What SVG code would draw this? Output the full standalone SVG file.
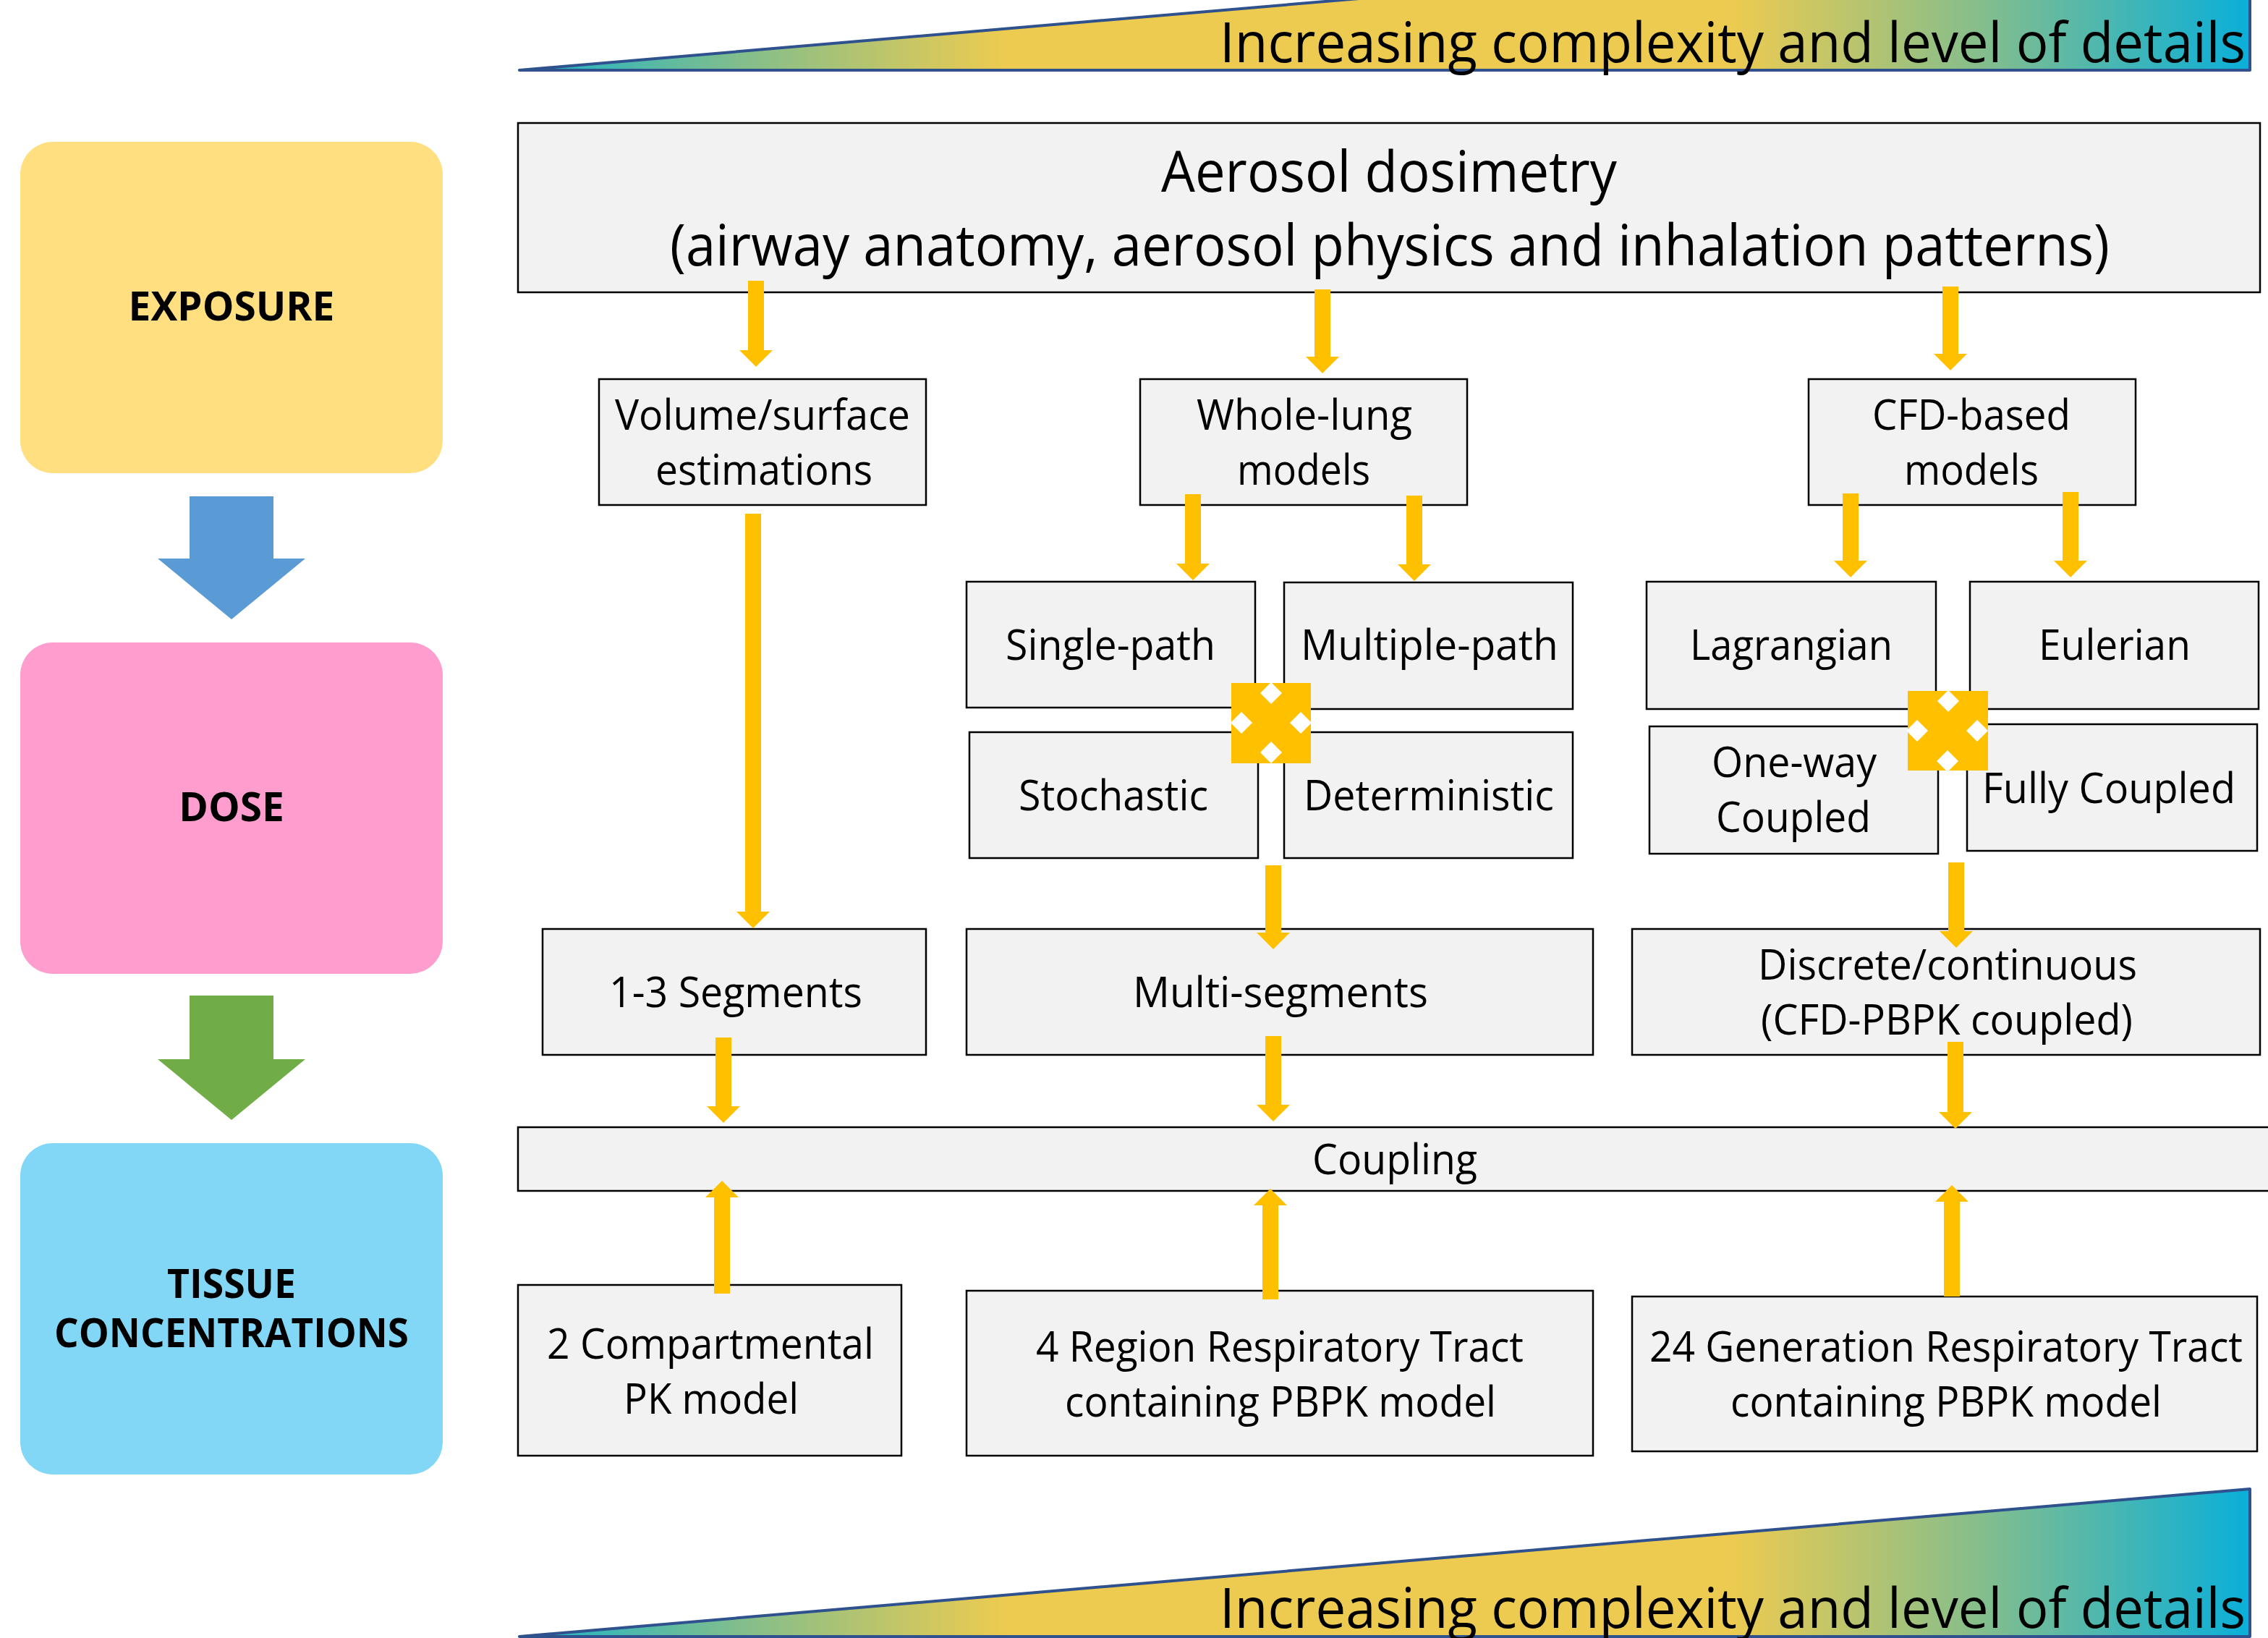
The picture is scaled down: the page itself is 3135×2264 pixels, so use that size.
<svg xmlns="http://www.w3.org/2000/svg" width="3135" height="2264" viewBox="0 0 3135 2264">
  <style>
    text { font-family: "Open Sans", "Noto Sans", "Liberation Sans", sans-serif; fill: #000; text-anchor: middle; }
    .box { fill: #F2F2F2; stroke: #000; stroke-width: 2.5; }
    .t { font-size: 59px; }
    .big { font-size: 78px; }
    .stage { font-size: 55px; font-weight: bold; }
    .ramp { fill: url(#ramp); stroke: #2F528F; stroke-width: 4; stroke-linejoin: round; }
    .ramptext { font-size: 76px; text-anchor: start; }
    .conn { stroke: #FFC000; stroke-width: 22; fill: none; marker-end: url(#head); }
    .cross { fill: #FFC000; }
    .notch { fill: #FFFFFF; }
  </style>
  <defs>
    <linearGradient id="ramp" gradientUnits="userSpaceOnUse" x1="718" y1="0" x2="3110" y2="0">
      <stop offset="0" stop-color="#17B3CA"/>
      <stop offset="0.13" stop-color="#84BE8B"/>
      <stop offset="0.28" stop-color="#EDCB50"/>
      <stop offset="0.70" stop-color="#EDCB50"/>
      <stop offset="0.84" stop-color="#88BE8A"/>
      <stop offset="1" stop-color="#0AAFD9"/>
    </linearGradient>
    <marker id="head" viewBox="0 0 23 46" refX="0" refY="23" markerWidth="23" markerHeight="46" markerUnits="userSpaceOnUse" orient="auto">
      <path d="M0,0 L23,23 L0,46 Z" fill="#FFC000"/>
    </marker>
  </defs>

  <!-- complexity ramps -->
  <g id="ramp-top">
    <polygon class="ramp" points="718,97 3110,97 3110,-107"/>
    <text class="ramptext" x="1686" y="86" textLength="1418" lengthAdjust="spacingAndGlyphs">Increasing complexity and level of details</text>
  </g>
  <g id="ramp-bottom">
    <polygon class="ramp" points="718,2262 3110,2262 3110,2058"/>
    <text class="ramptext" x="1686" y="2250" textLength="1418" lengthAdjust="spacingAndGlyphs">Increasing complexity and level of details</text>
  </g>

  <!-- stage column -->
  <g id="exposure">
    <rect x="28" y="196" width="584" height="458" rx="45" ry="45" fill="#FFDF80"/>
    <text class="stage" x="320" y="443">EXPOSURE</text>
  </g>
  <g id="stage-arrow-1">
    <polygon points="262,686 378,686 378,772 422,772 320,856 218,772 262,772" fill="#5B9BD5"/>
  </g>
  <g id="dose">
    <rect x="28" y="888" width="584" height="458" rx="45" ry="45" fill="#FF9DCE"/>
    <text class="stage" x="320" y="1135">DOSE</text>
  </g>
  <g id="stage-arrow-2">
    <polygon points="262,1376 378,1376 378,1464 422,1464 320,1548 218,1464 262,1464" fill="#70AD47"/>
  </g>
  <g id="tissue">
    <rect x="28" y="1580" width="584" height="458" rx="45" ry="45" fill="#82D7F6"/>
    <text class="stage" x="320" y="1794" textLength="178" lengthAdjust="spacingAndGlyphs">TISSUE</text>
    <text class="stage" x="320" y="1862" textLength="490" lengthAdjust="spacingAndGlyphs">CONCENTRATIONS</text>
  </g>

  <!-- model boxes -->
  <g id="aerosol">
    <rect class="box" x="716" y="170" width="2408" height="234"/>
    <text class="big" x="1920" y="265" textLength="630" lengthAdjust="spacingAndGlyphs">Aerosol dosimetry</text>
    <text class="big" x="1921" y="367" textLength="1990" lengthAdjust="spacingAndGlyphs">(airway anatomy, aerosol physics and inhalation patterns)</text>
  </g>
  <g id="volume">
    <rect class="box" x="828" y="524" width="452" height="174"/>
    <text class="t" x="1054" y="594" textLength="408" lengthAdjust="spacingAndGlyphs">Volume/surface</text>
    <text class="t" x="1056" y="670" textLength="300" lengthAdjust="spacingAndGlyphs">estimations</text>
  </g>
  <g id="wholelung">
    <rect class="box" x="1576" y="524" width="452" height="174"/>
    <text class="t" x="1803" y="594" textLength="298" lengthAdjust="spacingAndGlyphs">Whole-lung</text>
    <text class="t" x="1802" y="670" textLength="184" lengthAdjust="spacingAndGlyphs">models</text>
  </g>
  <g id="cfd">
    <rect class="box" x="2500" y="524" width="452" height="174"/>
    <text class="t" x="2725" y="594" textLength="274" lengthAdjust="spacingAndGlyphs">CFD-based</text>
    <text class="t" x="2725" y="670" textLength="186" lengthAdjust="spacingAndGlyphs">models</text>
  </g>
  <g id="singlepath">
    <rect class="box" x="1336" y="804" width="399" height="174"/>
    <text class="t" x="1535" y="912" textLength="290" lengthAdjust="spacingAndGlyphs">Single-path</text>
  </g>
  <g id="multiplepath">
    <rect class="box" x="1775" y="805" width="399" height="175"/>
    <text class="t" x="1976" y="912" textLength="356" lengthAdjust="spacingAndGlyphs">Multiple-path</text>
  </g>
  <g id="stochastic">
    <rect class="box" x="1340" y="1012" width="399" height="174"/>
    <text class="t" x="1539" y="1120" textLength="262" lengthAdjust="spacingAndGlyphs">Stochastic</text>
  </g>
  <g id="deterministic">
    <rect class="box" x="1775" y="1012" width="399" height="174"/>
    <text class="t" x="1975" y="1120" textLength="346" lengthAdjust="spacingAndGlyphs">Deterministic</text>
  </g>
  <g id="lagrangian">
    <rect class="box" x="2276" y="804" width="400" height="176"/>
    <text class="t" x="2476" y="912" textLength="280" lengthAdjust="spacingAndGlyphs">Lagrangian</text>
  </g>
  <g id="eulerian">
    <rect class="box" x="2723" y="804" width="399" height="176"/>
    <text class="t" x="2923" y="912" textLength="210" lengthAdjust="spacingAndGlyphs">Eulerian</text>
  </g>
  <g id="oneway">
    <rect class="box" x="2280" y="1004" width="399" height="176"/>
    <text class="t" x="2480" y="1074" textLength="228" lengthAdjust="spacingAndGlyphs">One-way</text>
    <text class="t" x="2479" y="1150" textLength="214" lengthAdjust="spacingAndGlyphs">Coupled</text>
  </g>
  <g id="fullycoupled">
    <rect class="box" x="2719" y="1001" width="401" height="175"/>
    <text class="t" x="2915" y="1110" textLength="350" lengthAdjust="spacingAndGlyphs">Fully Coupled</text>
  </g>
  <g id="segments13">
    <rect class="box" x="750" y="1284" width="530" height="174"/>
    <text class="t" x="1017" y="1392" textLength="350" lengthAdjust="spacingAndGlyphs">1-3 Segments</text>
  </g>
  <g id="multisegments">
    <rect class="box" x="1336" y="1284" width="866" height="174"/>
    <text class="t" x="1770" y="1392" textLength="408" lengthAdjust="spacingAndGlyphs">Multi-segments</text>
  </g>
  <g id="discrete">
    <rect class="box" x="2256" y="1284" width="868" height="174"/>
    <text class="t" x="2692" y="1354" textLength="524" lengthAdjust="spacingAndGlyphs">Discrete/continuous</text>
    <text class="t" x="2691" y="1430" textLength="514" lengthAdjust="spacingAndGlyphs">(CFD-PBPK coupled)</text>
  </g>
  <g id="coupling">
    <rect class="box" x="716" y="1558" width="2440" height="88"/>
    <text class="t" x="1928" y="1623" textLength="228" lengthAdjust="spacingAndGlyphs">Coupling</text>
  </g>
  <g id="pk2">
    <rect class="box" x="716" y="1776" width="530" height="236"/>
    <text class="t" x="982" y="1878" textLength="452" lengthAdjust="spacingAndGlyphs">2 Compartmental</text>
    <text class="t" x="983" y="1954" textLength="242" lengthAdjust="spacingAndGlyphs">PK model</text>
  </g>
  <g id="region4">
    <rect class="box" x="1336" y="1784" width="866" height="228"/>
    <text class="t" x="1769" y="1882" textLength="674" lengthAdjust="spacingAndGlyphs">4 Region Respiratory Tract</text>
    <text class="t" x="1770" y="1958" textLength="596" lengthAdjust="spacingAndGlyphs">containing PBPK model</text>
  </g>
  <g id="generation24">
    <rect class="box" x="2256" y="1792" width="864" height="214"/>
    <text class="t" x="2690" y="1882" textLength="820" lengthAdjust="spacingAndGlyphs">24 Generation Respiratory Tract</text>
    <text class="t" x="2690" y="1958" textLength="596" lengthAdjust="spacingAndGlyphs">containing PBPK model</text>
  </g>

  <!-- alternative-choice markers between paired boxes -->
  <g id="choice-1">
    <rect class="cross" x="1702" y="944" width="110" height="111"/>
    <polygon class="notch" points="1757,943 1772,958 1757,973 1742,958"/>
    <polygon class="notch" points="1716,984 1731,999 1716,1014 1701,999"/>
    <polygon class="notch" points="1798,984 1813,999 1798,1014 1783,999"/>
    <polygon class="notch" points="1757,1025 1772,1040 1757,1055 1742,1040"/>
  </g>
  <g id="choice-2">
    <rect class="cross" x="2637" y="955" width="111" height="110"/>
    <polygon class="notch" points="2693,954 2708,969 2693,984 2678,969"/>
    <polygon class="notch" points="2650,995 2665,1010 2650,1025 2635,1010"/>
    <polygon class="notch" points="2733,995 2748,1010 2733,1025 2718,1010"/>
    <polygon class="notch" points="2692,1037 2707,1052 2692,1067 2677,1052"/>
  </g>

  <!-- connectors: each line stops at the base of its arrowhead -->
  <g id="connectors">
    <line class="conn" x1="1045" y1="388" x2="1045" y2="484"/>
    <line class="conn" x1="1828" y1="400" x2="1828" y2="493"/>
    <line class="conn" x1="2696" y1="396" x2="2696" y2="489"/>
    <line class="conn" x1="1041" y1="710" x2="1041" y2="1260"/>
    <line class="conn" x1="1649" y1="683" x2="1649" y2="779"/>
    <line class="conn" x1="1955" y1="685" x2="1955" y2="780"/>
    <line class="conn" x1="2558" y1="682" x2="2558" y2="775"/>
    <line class="conn" x1="2862" y1="680" x2="2862" y2="775"/>
    <line class="conn" x1="1760" y1="1196" x2="1760" y2="1289"/>
    <line class="conn" x1="2704" y1="1192" x2="2704" y2="1287"/>
    <line class="conn" x1="1000" y1="1434" x2="1000" y2="1529"/>
    <line class="conn" x1="1760" y1="1432" x2="1760" y2="1527"/>
    <line class="conn" x1="2703" y1="1440" x2="2703" y2="1537"/>
    <line class="conn" x1="998" y1="1788" x2="998" y2="1655"/>
    <line class="conn" x1="1756" y1="1796" x2="1756" y2="1666"/>
    <line class="conn" x1="2698" y1="1792" x2="2698" y2="1661"/>
  </g>
</svg>
